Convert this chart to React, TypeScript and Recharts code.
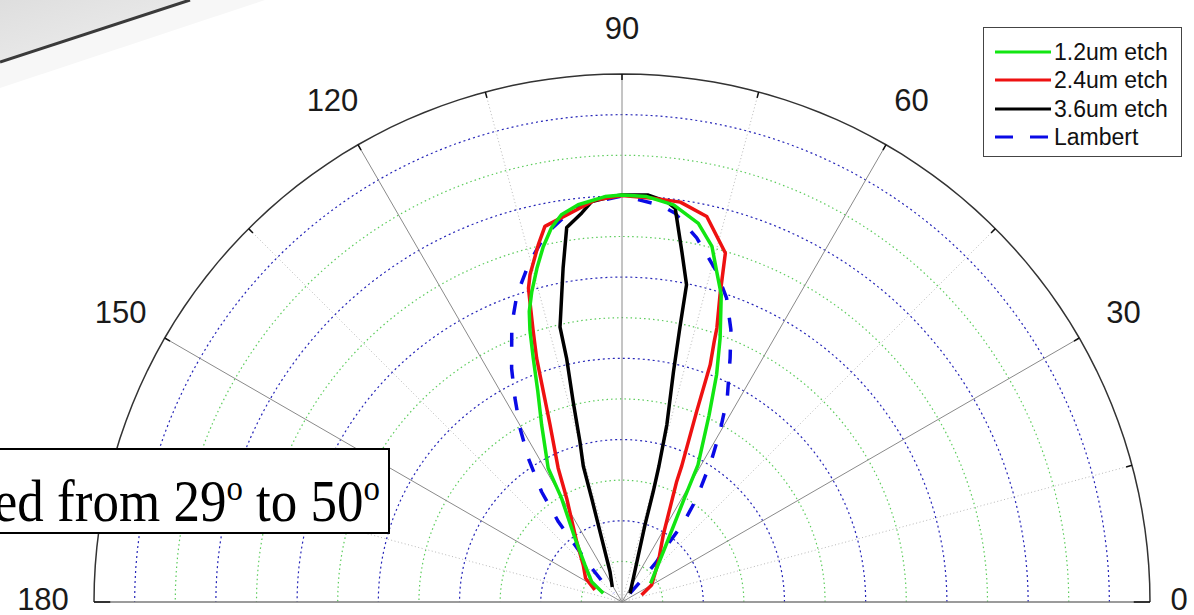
import { ScatterChart, Scatter, XAxis, YAxis } from "recharts";

// [angle in degrees, relative intensity]
type Pt = [number, number];

const ETCH_12: Pt[] = [
  [33, 0.84], [53, 1.85], [59, 2.99], [61, 3.86], [65, 5.07], [67.4, 6.06], [69.6, 6.93],
  [72.1, 7.95], [74, 8.46], [75.8, 9.03], [78.6, 9.51], [82.6, 9.86], [86.5, 10.0], [90, 10.02],
  [92.4, 9.99], [96.3, 9.84], [98.9, 9.65], [100.7, 9.37], [102.5, 8.96], [104.3, 8.48],
  [106.2, 7.96], [107.7, 7.51], [108.7, 7.07], [110, 6.39], [111.8, 5.58], [114.4, 4.79],
  [118.9, 3.76], [120.2, 2.96], [126.4, 1.95], [135, 1.29], [146.2, 0.9], [155, 0.51],
];

const ETCH_24: Pt[] = [
  [19.6, 0.51], [29.8, 0.84], [48, 1.34], [58.4, 1.94], [62.9, 2.59], [65.6, 3.26], [66.3, 3.66],
  [68.6, 5.04], [69.6, 6.23], [70.5, 6.8], [70.9, 7.14], [72.3, 7.94], [73.5, 8.96], [77.6, 9.72],
  [81.7, 9.95], [85.6, 9.97], [90, 10.01], [93.8, 9.92], [97.6, 9.66], [101.6, 9.44], [103.2, 9.03],
  [105.7, 8.37], [106.6, 8.06], [107.4, 7.49], [108.1, 7.05], [109.3, 6.36], [110.5, 5.53],
  [112.1, 4.71], [115.5, 3.65], [118.1, 2.89], [126.9, 1.86], [136.3, 1.32], [146.9, 1.07], [156, 0.73],
];

const ETCH_36: Pt[] = [
  [47.4, 0.29], [64.5, 0.65], [73.4, 1.98], [74.2, 2.82], [74.8, 3.47], [75.8, 4.5], [77.4, 5.81],
  [78.1, 6.92], [78.5, 7.97], [80.3, 8.75], [82.3, 9.78], [83.6, 9.92], [86.3, 10.04], [90, 10.02],
  [91, 10.0], [94.3, 9.89], [95.9, 9.63], [98.4, 9.32], [100, 8.35], [101.1, 7.71], [102.7, 6.94],
  [102.8, 6.16], [103.7, 5.08], [104.7, 4.08], [105.9, 3.48], [106.3, 2.66], [107.7, 1.65],
  [111.6, 0.8], [122.9, 0.44],
];

const LAMBERT: Pt[] = [
  [47.4, 0.29], [48.2, 0.73], [49.3, 1.31], [51.3, 1.69], [52, 2.25], [52.8, 2.64], [54.2, 3.15],
  [55.7, 3.49], [57.7, 4.11], [60.1, 4.84], [62.7, 5.65], [66.1, 6.57], [68.2, 7.22], [71, 7.91],
  [74, 8.46], [78.4, 9.15], [82.2, 9.66], [84.5, 9.82], [90, 10.0], [95.8, 9.83], [97.9, 9.66],
  [101.8, 9.24], [105.5, 8.62], [108.9, 7.99], [111.7, 7.34], [115.3, 6.36], [117.7, 5.67],
  [120.4, 4.96], [123.1, 4.22], [126.1, 3.36], [128.4, 2.52], [129.5, 1.82], [131.2, 1.32],
  [135, 0.59], [135, 0.3],
];

const R_MAX = 13;
const RINGS = [1, 2, 3, 4, 5, 6, 7, 8, 9, 10, 11, 12];
const SPOKES = [15, 30, 45, 60, 75, 90, 105, 120, 135, 150, 165];
const ANGLE_TICKS = [0, 30, 60, 90, 120, 150, 180];
const EDGE_TICKS = [0, 15, 30, 45, 60, 75, 90, 105, 120, 135, 150, 165, 180];

const SERIES = [
  { name: "1.2um etch", pts: ETCH_12, color: "#12e612", dash: undefined as string | undefined },
  { name: "2.4um etch", pts: ETCH_24, color: "#ee1111", dash: undefined as string | undefined },
  { name: "3.6um etch", pts: ETCH_36, color: "#000000", dash: undefined as string | undefined },
  { name: "Lambert", pts: LAMBERT, color: "#0a0ae6", dash: "14 18" },
];
// drawing order: Lambert underneath, 1.2um on top
const DRAW_ORDER = [3, 2, 1, 0];

const W = 1194;
const H = 615;
const LABEL_OFFSET = 51; // px outside the rim
const LABEL_NUDGE: Record<number, [number, number]> = { 0: [-22, -3], 180: [0, -3], 90: [0, 5] };

const rad = (a: number) => (a * Math.PI) / 180;
const toXY = (pts: Pt[]) =>
  pts.map(([a, r]) => ({ x: r * Math.cos(rad(a)), y: r * Math.sin(rad(a)), a }));
const arc = (r: number) =>
  Array.from({ length: 91 }, (_, i) => ({ x: r * Math.cos(rad(i * 2)), y: r * Math.sin(rad(i * 2)) }));
const ray = (a: number, r0: number, r1: number) => [
  { x: r0 * Math.cos(rad(a)), y: r0 * Math.sin(rad(a)), a },
  { x: r1 * Math.cos(rad(a)), y: r1 * Math.sin(rad(a)), a },
];

const noDot = () => <g />;

function AngleLabel(props: any) {
  const { cx, cy, payload } = props;
  const a = payload.a as number;
  const [nx, ny] = LABEL_NUDGE[a] ?? [0, 0];
  const x = cx + LABEL_OFFSET * Math.cos(rad(a)) + nx;
  const y = cy - LABEL_OFFSET * Math.sin(rad(a)) + ny;
  return (
    <text x={x} y={y} textAnchor="middle" dominantBaseline="central"
      fontSize={31} fill="#1a1a1a" fontFamily="'Liberation Sans', Arial, sans-serif">
      {a}
    </text>
  );
}

function LegendBox() {
  return (
    <div style={{
      position: "absolute", left: 983, top: 27, width: 199, height: 130, boxSizing: "border-box",
      border: "1.5px solid #444", background: "#fff",
      fontFamily: "'Liberation Sans', Arial, sans-serif", fontSize: 23, color: "#111",
    }}>
      {SERIES.map((s, i) => (
        <div key={s.name} style={{ position: "absolute", left: 11, top: 10 + i * 28.3, height: 28, display: "flex", alignItems: "center" }}>
          <svg width={56} height={6} style={{ marginRight: 3 }}>
            <line x1={0} y1={3} x2={56} y2={3} stroke={s.color} strokeWidth={3}
              strokeDasharray={s.dash ? "18 17" : undefined} />
          </svg>
          <span style={{ lineHeight: "28px" }}>{s.name}</span>
        </div>
      ))}
    </div>
  );
}

const supStyle = { fontSize: "0.62em", verticalAlign: "0.55em" };

export default function App() {
  return (
    <div style={{ position: "absolute", left: 0, top: 0, width: W, height: H, overflow: "hidden", background: "#fff" }}>
      {/* corner of the photo that sits behind the plot on the slide */}
      <svg width={300} height={100} style={{ position: "absolute", left: 0, top: 0 }}>
        <defs>
          <linearGradient id="shade" x1="0" y1="0" x2="1" y2="1">
            <stop offset="0" stopColor="#dedede" />
            <stop offset="1" stopColor="#f0f0f0" />
          </linearGradient>
        </defs>
        <polygon points="0,62 190,0 265,0 0,88" fill="#f7f7f7" />
        <polygon points="0,0 190,0 0,62" fill="url(#shade)" />
        <line x1={0} y1={62} x2={190} y2={0} stroke="#3a3a3a" strokeWidth={3} />
      </svg>

      <ScatterChart width={W} height={H} margin={{ top: 74, right: 44, bottom: 13, left: 94 }}>
        <XAxis type="number" dataKey="x" domain={[-R_MAX, R_MAX]} hide />
        <YAxis type="number" dataKey="y" domain={[0, R_MAX]} hide />

        {RINGS.map((r) => (
          <Scatter key={`ring-${r}`} data={arc(r)} fill="none" shape={noDot} isAnimationActive={false}
            line={{ stroke: r % 2 ? "#5ccc5c" : "#2626b8", strokeWidth: 1.2, strokeDasharray: r % 2 ? "1.5 3" : "2 3" }} />
        ))}

        {SPOKES.map((a) => (
          <Scatter key={`spoke-${a}`} data={ray(a, 0, R_MAX)} fill="none" shape={noDot} isAnimationActive={false}
            line={a % 30 === 0
              ? { stroke: "#8a8a8a", strokeWidth: 1 }
              : { stroke: "#b9b9b9", strokeWidth: 1, strokeDasharray: "1 2.5" }} />
        ))}

        <Scatter data={[{ x: -R_MAX, y: 0 }, { x: R_MAX, y: 0 }]} fill="none" shape={noDot}
          isAnimationActive={false} line={{ stroke: "#7a7a7a", strokeWidth: 1.5 }} />
        <Scatter data={arc(R_MAX)} fill="none" shape={noDot} isAnimationActive={false}
          line={{ stroke: "#333", strokeWidth: 1.5 }} />
        {EDGE_TICKS.map((a) => (
          <Scatter key={`tick-${a}`} data={ray(a, a % 180 === 0 ? 12.6 : 12.85, R_MAX)} fill="none"
            shape={noDot} isAnimationActive={false} line={{ stroke: "#111", strokeWidth: 1.5 }} />
        ))}

        {DRAW_ORDER.map((i) => {
          const s = SERIES[i];
          return (
            <Scatter key={s.name} name={s.name} data={toXY(s.pts)} fill={s.color} shape={noDot}
              isAnimationActive={false}
              line={{ stroke: s.color, strokeWidth: 3.5, strokeDasharray: s.dash, strokeLinejoin: "round" }} />
          );
        })}

        <Scatter data={ANGLE_TICKS.map((a) => ray(a, R_MAX, R_MAX)[0])} shape={<AngleLabel />}
          isAnimationActive={false} />
      </ScatterChart>

      <LegendBox />

      <div style={{
        position: "absolute", left: -300, top: 448, width: 690, height: 86, boxSizing: "border-box",
        border: "2px solid #000", background: "#fff", textAlign: "right", paddingRight: 8,
        fontFamily: "'Liberation Serif', 'Times New Roman', serif", fontSize: 53, lineHeight: "82px",
        color: "#000", whiteSpace: "nowrap",
      }}>
        <span style={{ display: "inline-block", transform: "scaleY(1.12)", transformOrigin: "50% 70%" }}>
          ed from 29<span style={supStyle}>o</span> to 50<span style={supStyle}>o</span>
        </span>
      </div>
    </div>
  );
}
